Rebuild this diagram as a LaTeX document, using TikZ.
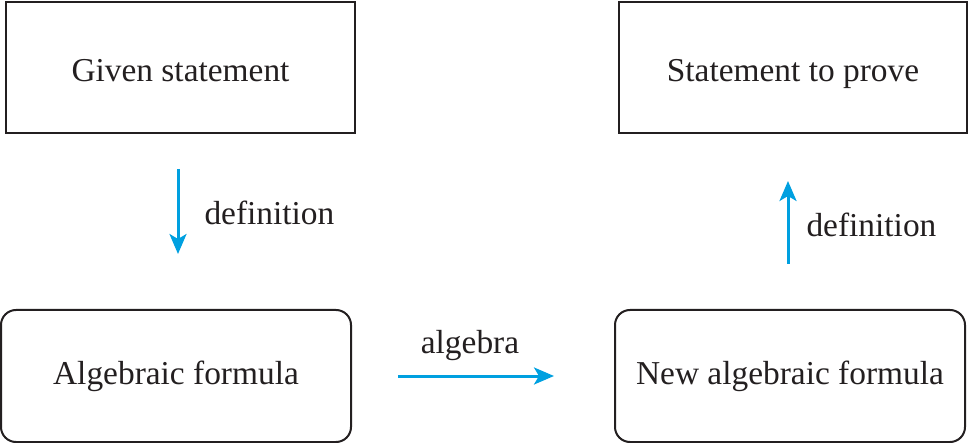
\documentclass[tikz,border=0pt]{standalone}
\usepackage{fontspec}
\setmainfont{Liberation Serif}
\usepackage{xcolor}
\usetikzlibrary{positioning, arrows.meta}
\definecolor{textgray}{HTML}{231F20}
\definecolor{arrowblue}{HTML}{00A0E0}

\begin{document}
\begin{tikzpicture}[
        x=0.5pt, y=-0.5pt,
        box/.style={rectangle, draw=textgray, line width=1pt, text=textgray,
            minimum width=174.5pt, minimum height=65.5pt, inner sep=2pt,
            text height=14.5pt, text depth=0pt,
            font=\fontsize{16.7}{20}\selectfont},
        roundbox/.style={box, rounded corners=7.5pt, minimum width=175pt, minimum height=66pt,
            text height=8pt},
        flow/.style={draw=arrowblue, line width=1.5pt,
            -{Stealth[length=10pt, width=8.5pt, inset=2.5pt]}},
        lbl/.style={font=\fontsize{16.7}{20}\selectfont, text=textgray, inner sep=0pt}
    ]
    \useasboundingbox (0,0) rectangle (969,443);
    \node [box] (given) at (180.5,67.5) {Given statement};
    \node [box, minimum width=174pt] (prove) at (793,67.5) {Statement to prove};
    \node [roundbox] (algebraic) at (176,376) {Algebraic formula};
    \node [roundbox] (newformula) at (790,376) {New algebraic formula};

    \draw [flow, shorten <=17.5pt, shorten >=27.5pt] ([xshift=-1.25pt]given.south) -- node[lbl, right=12.5pt, yshift=4.25pt] {definition} ([xshift=1pt]algebraic.north);
    \draw [flow, shorten <=23pt, shorten >=30pt] (algebraic.east) -- node[lbl, above=7pt, xshift=-6.5pt] {algebra} (newformula.west);
    \draw [flow, shorten <=22.5pt, shorten >=23.5pt] ([xshift=-1pt]newformula.north) -- node[lbl, right=8.5pt, yshift=-1.5pt] {definition} ([xshift=-2.5pt]prove.south);
\end{tikzpicture}
\end{document}
